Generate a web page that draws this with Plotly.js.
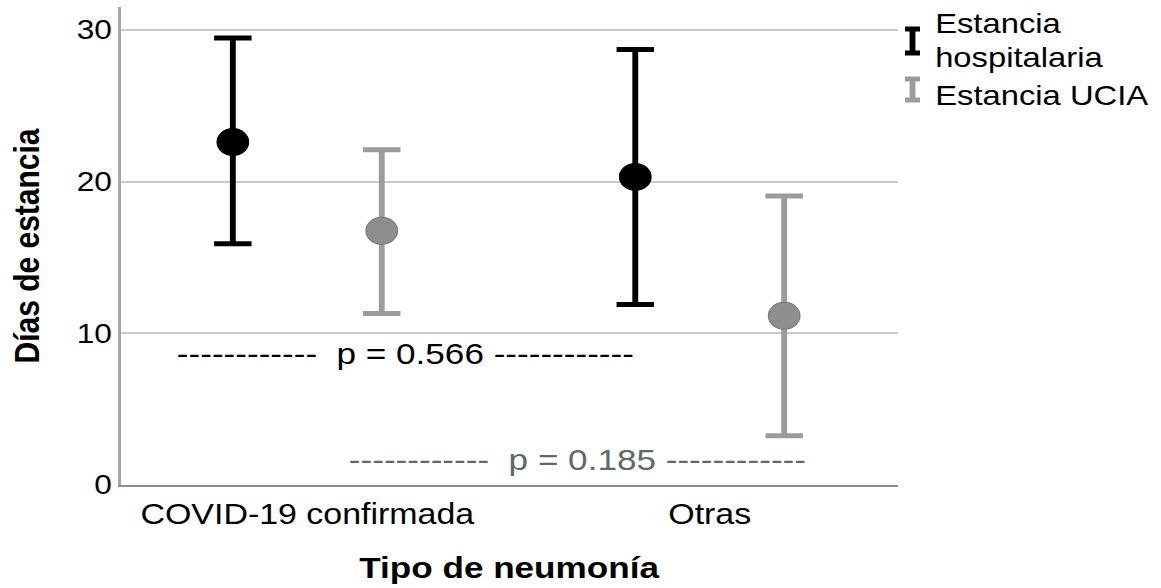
<!DOCTYPE html>
<html>
<head>
<meta charset="utf-8">
<script src="https://cdn.plot.ly/plotly-3.0.1.min.js"></script>
<style>
  html, body { margin: 0; padding: 0; overflow: hidden; background: #fff; }
  #wrap { width: 1161px; height: 588px; overflow: hidden; }
  #chart { width: 992px; height: 588px; transform-origin: 0 0; }
</style>
</head>
<body>
<div id="wrap"><div id="chart"></div></div>
<script>
// ---- data ----
const categories = ['COVID-19 confirmada', 'Otras'];
const seriesNames = ['Estancia hospitalaria', 'Estancia UCIA'];
const hospMean  = [22.6, 20.3];
const hospUpper = [29.45, 28.7];
const hospLower = [15.9, 11.9];
const uciaMean  = [16.75, 11.15];
const uciaUpper = [22.1, 19.05];
const uciaLower = [11.3, 3.25];
const pLabels = ['p = 0.566', 'p = 0.185'];
const yTicks = [0, 10, 20, 30];
const yTitle = 'Días de estancia';
const xTitle = 'Tipo de neumonía';

// ---- layout geometry ----
const W = 992, H = 588;
const STRETCH = 1161 / W;
document.getElementById('chart').style.transform = 'scaleX(' + STRETCH + ')';
const M = {l: 103, r: 225, t: 7, b: 103};
const pw = W - M.l - M.r, ph = H - M.t - M.b;
const px = xu => (xu - M.l) / pw;          // unstretched pixel -> paper x
const py = y => (H - M.b - y) / ph;         // pixel -> paper y
const sx = x => x / STRETCH;                // reference pixel -> unstretched

const FONT = 'Liberation Sans, Arial, sans-serif';
const OFF = 0.185;
const idx = categories.map((_, i) => i);

function errTrace(name, mean, up, lo, dx, markerColor, lineColor, barColor) {
  return {
    type: 'scatter', mode: 'markers', name: name, showlegend: false,
    x: idx.map(i => i + dx), y: mean,
    marker: {size: 27, color: markerColor, line: {color: lineColor, width: 1}},
    error_y: {
      type: 'data', symmetric: false,
      array: mean.map((m, i) => up[i] - m),
      arrayminus: mean.map((m, i) => m - lo[i]),
      color: barColor, thickness: 5, width: 16
    },
    hoverinfo: 'skip'
  };
}

const traces = [
  errTrace(seriesNames[0], hospMean, hospUpper, hospLower, -OFF, '#000000', '#000000', '#000000'),
  errTrace(seriesNames[1], uciaMean, uciaUpper, uciaLower, OFF, '#8e8e8e', '#7a7a7a', '#9c9c9c')
];

function icon(cxRef, yTop, yBot, color) {
  const cx = px(sx(cxRef)), hw = 6.4 / pw;
  const a = py(yTop), b = py(yBot);
  return {
    type: 'path', xref: 'paper', yref: 'paper',
    path: `M${cx - hw},${a} H${cx + hw} M${cx},${a} V${b} M${cx - hw},${b} H${cx + hw}`,
    line: {color: color, width: 5}
  };
}

const legX = px(sx(933));
const dash = '------------';
const annotations = [
  {text: 'Estancia', x: legX, y: py(24)},
  {text: 'hospitalaria', x: legX, y: py(57)},
  {text: seriesNames[1], x: legX, y: py(95)}
].map(a => Object.assign({
  xref: 'paper', yref: 'paper', xanchor: 'left', yanchor: 'middle', showarrow: false,
  font: {family: FONT, size: 28, color: '#000'}
}, a));

annotations.push({
  xref: 'x', yref: 'y', x: 0.2455, y: 8.64, showarrow: false,
  xanchor: 'center', yanchor: 'middle',
  text: dash + '\u00a0\u00a0' + pLabels[0] + '\u00a0' + dash,
  font: {family: FONT, size: 30, color: '#000'}
});
annotations.push({
  xref: 'x', yref: 'y', x: 0.671, y: 1.65, showarrow: false,
  xanchor: 'center', yanchor: 'middle',
  text: dash + '\u00a0\u00a0' + pLabels[1] + '\u00a0' + dash,
  font: {family: FONT, size: 30, color: '#5f6a65'}
});

const layout = {
  width: W, height: H,
  margin: M,
  paper_bgcolor: '#fff', plot_bgcolor: '#fff',
  showlegend: false,
  xaxis: {
    range: [-0.464, 1.467], tickvals: idx, ticktext: categories,
    showgrid: false, zeroline: false, showline: true, linecolor: '#8c8c8c', linewidth: 2,
    ticks: '', ticklabelstandoff: 2,
    tickfont: {family: FONT, size: 29, color: '#000'},
    title: {text: xTitle, standoff: 28, font: {family: FONT, size: 30, color: '#000', weight: 'bold'}},
    fixedrange: true
  },
  yaxis: {
    range: [0, 31.5], tickvals: yTicks, ticktext: yTicks.map(String),
    showgrid: true, gridcolor: '#cacaca', gridwidth: 2,
    zeroline: false, showline: true, linecolor: '#a6a6a6', linewidth: 2,
    ticks: '', ticklabelstandoff: 0,
    tickfont: {family: FONT, size: 27, color: '#000'},
    title: {text: yTitle, standoff: 23, font: {family: FONT, size: 30, color: '#000', weight: 'bold'}},
    fixedrange: true
  },
  shapes: [
    icon(912.5, 29, 53, '#000000'),
    icon(912.5, 79, 100, '#9c9c9c')
  ],
  annotations: annotations
};

Plotly.newPlot('chart', traces, layout, {staticPlot: true, displayModeBar: false});
</script>
</body>
</html>
